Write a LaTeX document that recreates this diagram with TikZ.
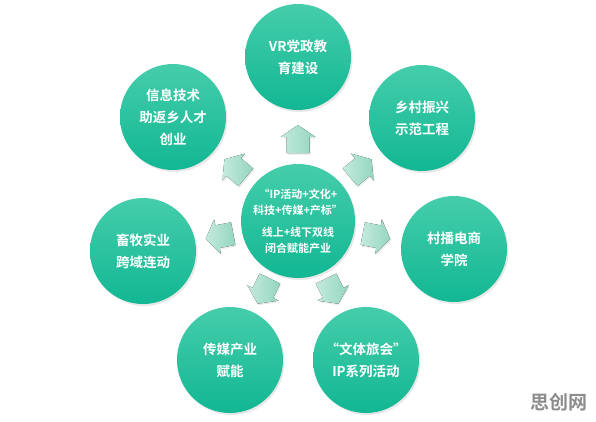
\documentclass[tikz,border=0pt]{standalone}
\usepackage{fontspec}
\setmainfont{Noto Sans CJK SC}
\newfontfamily\heavy{Noto Sans CJK SC Bold}
\usetikzlibrary{shadows}
\definecolor{ringtop}{HTML}{45CDAB}
\definecolor{ringbottom}{HTML}{12B793}
\definecolor{flowtail}{HTML}{C4EADD}
\definecolor{flowtip}{HTML}{94D6C0}
\definecolor{markgray}{HTML}{8C8C8C}
% block arrow at angle #1, #2 out from the centre
\newcommand{\flowarrow}[2]{%
  \begin{scope}[shift={(hub.center)}, rotate=#1]
    \fill[flow] ({#2-14},-11.5) -- ({#2+2},-11.5) -- ({#2+2},-17.5)
      -- ({#2+14},0) -- ({#2+2},17.5) -- ({#2+2},11.5)
      -- ({#2-14},11.5) -- cycle;
  \end{scope}}

\begin{document}
\begin{tikzpicture}[
  x=1pt,
  y=1pt,
  every node/.style={text=white, align=center},
  bubble/.style={circle, minimum size=106pt, inner sep=0pt,
    top color=ringtop, bottom color=ringbottom,
    drop shadow={opacity=0.18, shadow xshift=1.5pt, shadow yshift=-2pt},
    font=\fontsize{13.5}{22}\selectfont\heavy},
  hub/.style={bubble, minimum size=114pt,
    font=\fontsize{11}{16}\selectfont\heavy},
  flow/.style={left color=flowtail, right color=flowtip,
    drop shadow={opacity=0.15, shadow xshift=1pt, shadow yshift=-1.5pt}}
]
  % ---- page, 596 x 421 ---------------------------------------------------
  \fill[white] (0,0) rectangle (596,421);
  \path[use as bounding box] (0,0) rectangle (596,421);

  % ---- the centre --------------------------------------------------------
  \node[hub] (hub) at (298,200)
    {“IP活动+文化+\\科技+传媒+产标”\\[6pt]线上+线下双线\\闭合赋能产业};

  % ---- the ring of seven -------------------------------------------------
  \node[bubble] (vr)      at (298,364) {VR党政教\\育建设};
  \node[bubble] (village) at (422,303) {乡村振兴\\示范工程};
  \node[bubble] (shop)    at (454,172) {村播电商\\学院};
  \node[bubble] (culture) at (366,61)  {“文体旅会”\\IP系列活动};
  \node[bubble] (media)   at (230,61)  {传媒产业\\赋能};
  \node[bubble] (farm)    at (143,170) {畜牧实业\\跨域连动};
  \node[bubble] (info)    at (173,304) {信息技术\\助返乡人才\\创业};

  % ---- arrows out of the centre ------------------------------------------
  \flowarrow{90}{82}
  \flowarrow{40}{82}
  \flowarrow{349}{80}
  \flowarrow{296}{78}
  \flowarrow{244}{78}
  \flowarrow{191}{80}
  \flowarrow{140}{82}

  % ---- mark, bottom right ------------------------------------------------
  \node[text=markgray, font=\fontsize{19}{19}\selectfont\heavy]
    (mark) at (559,19) {思创网};
\end{tikzpicture}
\end{document}
